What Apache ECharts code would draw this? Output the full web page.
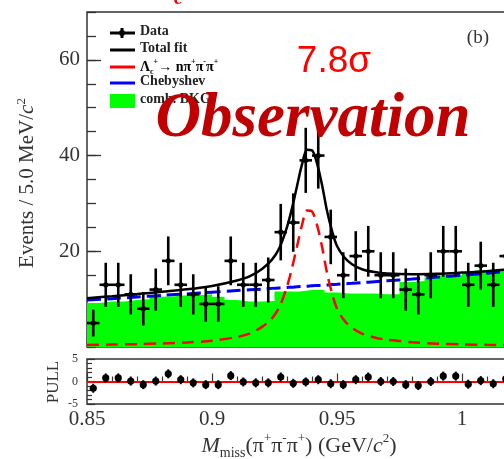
<!DOCTYPE html>
<html><head><meta charset="utf-8">
<script src="https://cdn.jsdelivr.net/npm/echarts@6/dist/echarts.min.js"></script>
<style>html,body{margin:0;padding:0;background:#fff;overflow:hidden}
#wrap{width:504px;height:459px;overflow:hidden;position:relative}
#c{width:590px;height:459px;position:absolute;left:0;top:0}</style>
</head><body><div id="wrap"><div id="c"></div></div>
<script>
// ---- data ----
const binCenters = [0.8525,0.8575,0.8625,0.8675,0.8725,0.8775,0.8825,0.8875,0.8925,0.8975,0.9025,0.9075,0.9125,0.9175,0.9225,0.9275,0.9325,0.9375,0.9425,0.9475,0.9525,0.9575,0.9625,0.9675,0.9725,0.9775,0.9825,0.9875,0.9925,0.9975,1.0025,1.0075,1.0125,1.0175];
const binHalf = 0.0025;
const dataCounts = [5,13,13,11,8,12,18,13,11,9,9,18,13,13,14,24,26,39,40,23,15,19,20,15,15,12,11,15,20,20,13,17,13,19];
const dataErrors = [2.8,4.6,4.6,4.2,3.5,4.4,5.1,4.6,4.2,3.7,3.7,5.1,4.6,4.6,4.7,5.9,6.1,6.8,6.9,5.7,4.8,5.2,5.3,4.8,4.8,4.4,4.2,4.8,5.3,5.3,4.6,5.0,4.6,5.2];
const combBkg = [9.2,9.5,9.5,9.8,10.0,10.5,10.6,10.8,10.8,11.0,10.5,9.8,9.5,9.5,9.6,11.6,11.6,11.9,11.9,11.4,11.2,11.2,11.2,11.0,11.0,13.6,13.8,14.5,15.0,15.0,15.5,16.0,16.0,16.2];
const pullValues = [-1.5,0.8,0.8,0.1,-0.7,0.1,1.7,0.4,-0.3,-0.7,-0.7,1.3,-0.1,-0.3,-0.3,1.0,-0.4,-0.1,0.4,-0.5,-0.7,0.4,1.0,0,0,-0.7,-0.9,0,1.2,1.2,-0.6,0.2,-0.5,0.6];
const pullError = 1;

const fitX = [0.850,0.860,0.870,0.880,0.890,0.900,0.910,0.915,0.920,0.924,0.927,0.930,0.932,0.934,0.936,0.938,0.940,0.942,0.944,0.946,0.948,0.950,0.953,0.956,0.960,0.965,0.970,0.980,0.990,1.000,1.010,1.020];
const chebyshevY = [9.8,10.1,10.45,10.8,11.1,11.45,11.8,11.95,12.1,12.25,12.35,12.45,12.5,12.6,12.65,12.7,12.8,12.85,12.9,12.95,13.05,13.1,13.2,13.3,13.45,13.65,13.85,14.2,14.6,15.0,15.4,15.9];
const signalY = [0.4,0.5,0.6,0.75,0.95,1.3,2.1,2.8,4.2,6.0,8.4,12.6,16.5,21,25.5,28.5,28.3,25.5,21,15.5,11.2,8.0,5.5,4.0,2.8,2.0,1.5,1.0,0.7,0.55,0.45,0.4];
const totalFitY = [10.2,10.6,11.05,11.55,12.05,12.75,13.9,14.75,16.3,18.25,20.75,25.05,29.0,33.6,38.15,41.2,41.1,38.35,33.9,28.45,24.25,21.1,18.7,17.3,16.25,15.65,15.35,15.2,15.3,15.55,15.85,16.3];

const xTickLabels = ['0.85','0.9','0.95','1'];
const yMainLabels = [20,40,60];
const yPullLabels = [-5,0,5];

// ---- build series data ----
const dataPts = binCenters.map((x,i)=>[x,dataCounts[i],dataErrors[i]]);
const pullPts = binCenters.map((x,i)=>[x,pullValues[i],pullError]);
const bkgSteps = binCenters.map((x,i)=>[x-binHalf,combBkg[i]]);
bkgSteps.push([binCenters[binCenters.length-1]+binHalf, combBkg[combBkg.length-1]]);
const zip = (ys)=>fitX.map((x,i)=>[x,ys[i]]);

const SERIF = '"Liberation Serif","DejaVu Serif",serif';
const SANS = '"Liberation Sans",Arial,sans-serif';

function renderData(params, api){
  const x = api.value(0), y = api.value(1), e = api.value(2);
  const c = api.coord([x,y]);
  const t = api.coord([x,y+e]), b = api.coord([x,y-e]);
  const l = api.coord([x-binHalf,y]), r = api.coord([x+binHalf,y]);
  const st = {stroke:'#000', lineWidth:2.6};
  return {type:'group', children:[
    {type:'line', shape:{x1:c[0],y1:t[1],x2:c[0],y2:b[1]}, style:st},
    {type:'line', shape:{x1:l[0],y1:c[1],x2:r[0],y2:c[1]}, style:st},
    {type:'circle', shape:{cx:c[0],cy:c[1],r:2.6}, style:{fill:'#000'}}
  ]};
}
function renderPull(params, api){
  const x = api.value(0), y = api.value(1), e = api.value(2);
  const c = api.coord([x,y]);
  const t = api.coord([x,y+e]), b = api.coord([x,y-e]);
  return {type:'group', children:[
    {type:'line', shape:{x1:c[0],y1:t[1],x2:c[0],y2:b[1]}, style:{stroke:'#000',lineWidth:2}},
    {type:'circle', shape:{cx:c[0],cy:c[1],r:3.6}, style:{fill:'#000'}}
  ]};
}

const axisCol = '#333';
const chart = echarts.init(document.getElementById('c'), null, {renderer:'canvas', width:590, height:459});

const supRich = {
  n:{fontFamily:SERIF,fontSize:14,fontWeight:'bold',color:'#222',lineHeight:18,verticalAlign:'middle'},
  sup:{fontFamily:SERIF,fontSize:8,fontWeight:'bold',color:'#222',lineHeight:9,verticalAlign:'top'},
  sub:{fontFamily:SERIF,fontSize:8,fontWeight:'bold',color:'#222',lineHeight:9,verticalAlign:'bottom'}
};
const legendText = (txt,y)=>({type:'text', left:140, top:y-9, z:50,
  style:{text:txt, fontFamily:SERIF, fontSize:14, fontWeight:'bold', fill:'#222'}});
const legendLine = (y,color)=>({type:'line', z:50, shape:{x1:110,y1:y,x2:135,y2:y}, style:{stroke:color,lineWidth:3}});

const option = {
  backgroundColor:'#fff',
  animation:false,
  grid:[
    {left:87, top:12, width:500, height:335, show:true, borderColor:axisCol, borderWidth:1.5, backgroundColor:'transparent'},
    {left:87, top:359, width:500, height:45, show:true, borderColor:axisCol, borderWidth:1.5, backgroundColor:'transparent'}
  ],
  xAxis:[
    {type:'value', gridIndex:0, min:0.85, max:1.05, interval:0.05,
     axisLine:{show:false}, axisLabel:{show:false}, splitLine:{show:false},
     axisTick:{inside:true, length:12, lineStyle:{color:axisCol,width:1.2}},
     minorTick:{show:true, splitNumber:5, length:7, lineStyle:{color:axisCol,width:1.2}}},
    {type:'value', gridIndex:1, min:0.85, max:1.05, interval:0.05,
     axisLine:{show:false}, splitLine:{show:false},
     axisLabel:{fontFamily:SERIF, fontSize:21, color:'#333', margin:5,
       formatter:(v)=>{const i=Math.round((v-0.85)/0.05); return (i>=0&&i<xTickLabels.length)?xTickLabels[i]:'';}},
     axisTick:{inside:true, length:8, lineStyle:{color:axisCol,width:1.2}},
     minorTick:{show:true, splitNumber:5, length:5, lineStyle:{color:axisCol,width:1.2}}}
  ],
  yAxis:[
    {type:'value', gridIndex:0, position:'left', min:0, max:70, interval:20,
     axisLine:{show:false}, splitLine:{show:false},
     axisLabel:{customValues:yMainLabels, fontFamily:SERIF, fontSize:21, color:'#333', margin:7},
     axisTick:{customValues:yMainLabels, inside:true, length:14, lineStyle:{color:axisCol,width:1.3}}},
    {type:'value', gridIndex:0, position:'left', min:0, max:70, interval:5,
     axisLine:{show:false}, splitLine:{show:false}, axisLabel:{show:false},
     axisTick:{inside:true, length:9, lineStyle:{color:axisCol,width:1.3}}},
    {type:'value', gridIndex:1, position:'left', min:-5, max:5, interval:5,
     axisLine:{show:false}, splitLine:{show:false},
     axisLabel:{customValues:yPullLabels, fontFamily:SERIF, fontSize:12, color:'#333', margin:9},
     axisTick:{inside:true, length:8, lineStyle:{color:axisCol,width:1.2}},
     minorTick:{show:true, splitNumber:5, length:5, lineStyle:{color:axisCol,width:1.2}}}
  ],
  series:[
    {name:'comb. BKG', type:'line', xAxisIndex:0, yAxisIndex:0, data:bkgSteps, step:'end',
     symbol:'none', lineStyle:{width:0}, areaStyle:{color:'#00ff00', opacity:1}, z:1, silent:true},
    {name:'Chebyshev', type:'line', xAxisIndex:0, yAxisIndex:0, data:zip(chebyshevY), smooth:0.3,
     symbol:'none', lineStyle:{color:'#0000ff', width:3, type:[14,6]}, z:2},
    {name:'signal', type:'line', xAxisIndex:0, yAxisIndex:0, data:zip(signalY), smooth:0.3,
     symbol:'none', lineStyle:{color:'#ff0000', width:2.5, type:[12,7]}, z:3},
    {name:'Total fit', type:'line', xAxisIndex:0, yAxisIndex:0, data:zip(totalFitY), smooth:0.3,
     symbol:'none', lineStyle:{color:'#000', width:2.5}, z:4},
    {name:'Data', type:'custom', xAxisIndex:0, yAxisIndex:0, data:dataPts, renderItem:renderData,
     encode:{x:0,y:1}, z:5},
    {name:'Pull', type:'custom', xAxisIndex:1, yAxisIndex:2, data:pullPts, renderItem:renderPull,
     encode:{x:0,y:1}, z:5,
     markLine:{silent:true, symbol:'none', label:{show:false}, lineStyle:{color:'#ff0000', width:2, type:'solid'},
       data:[{yAxis:0}], z:4}}
  ],
  graphic:[
    // legend
    {type:'line', z:50, shape:{x1:110,y1:33,x2:135,y2:33}, style:{stroke:'#000',lineWidth:3}},
    {type:'line', z:50, shape:{x1:122,y1:28,x2:122,y2:38}, style:{stroke:'#000',lineWidth:3}},
    {type:'circle', z:50, shape:{cx:122,cy:33,r:3}, style:{fill:'#000'}},
    legendText('Data',33),
    legendLine(50,'#000'),
    legendText('Total fit',50),
    legendLine(67,'#ff0000'),
    {type:'text', left:140, top:58, z:50, style:{
      text:'{n|Λ}{sub|c}{sup|+}{n|→ nπ}{sup|+}{n|π}{sup|-}{n|π}{sup|+}', rich:supRich}},
    legendLine(83,'#0000ff'),
    legendText('Chebyshev',83),
    {type:'rect', z:50, shape:{x:110,y:94,width:25,height:14}, style:{fill:'#00ff00'}},
    legendText('comb. BKG',101),
    // annotations
    {type:'text', z:60, style:{text:'(b)', x:489, y:29, align:'right', verticalAlign:'top',
      fontFamily:SERIF, fontSize:19, fill:'#333'}},
    {type:'text', z:60, style:{text:'c', x:174, y:9, verticalAlign:'bottom',
      fontFamily:SERIF, fontSize:20, fontWeight:'bold', fontStyle:'italic', fill:'#ff0000'}},
    {type:'text', z:100, style:{text:'7.8σ', x:334, y:62, align:'center', verticalAlign:'middle',
      fontFamily:SANS, fontSize:37, fill:'#ff0000'}},
    {type:'text', z:100, style:{text:'Observation', x:313, y:120, align:'center', verticalAlign:'middle',
      fontFamily:SERIF, fontSize:63, fontWeight:'bold', fontStyle:'italic', fill:'#c00000'}},
    // axis titles
    {type:'text', z:60, x:27, y:183, rotation:Math.PI/2, style:{
      text:'{n|Events / 5.0 MeV/}{i|c}{s|2}', align:'center', verticalAlign:'middle',
      rich:{n:{fontFamily:SERIF,fontSize:21,fill:'#333',lineHeight:24,verticalAlign:'middle'},
            i:{fontFamily:SERIF,fontSize:21,fontStyle:'italic',fill:'#333',lineHeight:24,verticalAlign:'middle'},
            s:{fontFamily:SERIF,fontSize:13,fill:'#333',lineHeight:12,verticalAlign:'top'}}}},
    {type:'text', z:60, x:54, y:382, rotation:Math.PI/2, style:{
      text:'PULL', align:'center', verticalAlign:'middle', fontFamily:SERIF, fontSize:17, fill:'#333'}},
    {type:'text', z:60, x:299, y:446, style:{
      text:'{m|M}{sub|miss}{n|(π}{sup|+}{n|π}{sup|-}{n|π}{sup|+}{n|) (GeV/}{i|c}{sup|2}{n|)}',
      align:'center', verticalAlign:'middle',
      rich:{n:{fontFamily:SERIF,fontSize:22,fill:'#333',lineHeight:28,verticalAlign:'middle'},
            m:{fontFamily:SERIF,fontSize:22,fontStyle:'italic',fill:'#333',lineHeight:28,verticalAlign:'middle'},
            i:{fontFamily:SERIF,fontSize:22,fontStyle:'italic',fill:'#333',lineHeight:28,verticalAlign:'middle'},
            sub:{fontFamily:SERIF,fontSize:14,fill:'#333',lineHeight:12,verticalAlign:'bottom'},
            sup:{fontFamily:SERIF,fontSize:13,fill:'#333',lineHeight:14,verticalAlign:'top'}}}}
  ]
};
chart.setOption(option);
</script></body></html>
